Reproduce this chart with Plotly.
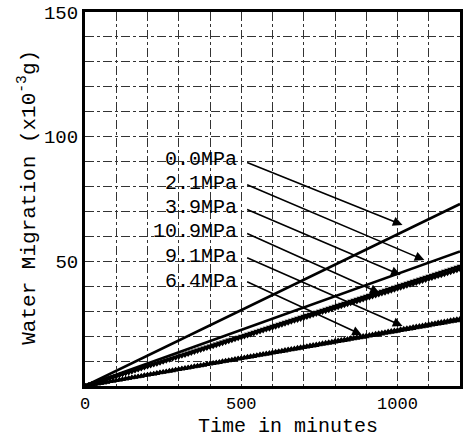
import plotly.graph_objects as go

# ---------------- data ----------------
time_min = list(range(0, 1210, 10))          # sampling times (min)
line_time = [0, 1200]
p00_vals = [0.0, 73.0]                        # 0.0 MPa
p21_vals = [0.0, 54.0]                        # 2.1 MPa

p39_vals = [
    0.0, 0.4, 0.8, 1.2, 1.6, 2.0, 2.4, 2.8, 3.2, 3.6,
    4.0, 4.4, 4.8, 5.2, 5.6, 6.0, 6.4, 6.8, 7.2, 7.6,
    8.0, 8.4, 8.8, 9.2, 9.6, 10.0, 10.4, 10.8, 11.2, 11.6,
    12.0, 12.4, 12.8, 13.2, 13.6, 14.0, 14.4, 14.8, 15.2, 15.6,
    16.0, 16.4, 16.8, 17.2, 17.6, 18.0, 18.4, 18.8, 19.2, 19.6,
    20.0, 20.4, 20.8, 21.2, 21.6, 22.0, 22.4, 22.8, 23.2, 23.6,
    24.0, 24.4, 24.8, 25.2, 25.6, 26.0, 26.4, 26.8, 27.2, 27.6,
    28.0, 28.4, 28.8, 29.2, 29.6, 30.0, 30.4, 30.8, 31.2, 31.6,
    32.0, 32.4, 32.8, 33.2, 33.6, 34.0, 34.4, 34.8, 35.2, 35.6,
    36.0, 36.4, 36.8, 37.2, 37.6, 38.0, 38.4, 38.8, 39.2, 39.6,
    40.0, 40.4, 40.8, 41.2, 41.6, 42.0, 42.4, 42.8, 43.2, 43.6,
    44.0, 44.4, 44.8, 45.2, 45.6, 46.0, 46.4, 46.8, 47.2, 47.6,
    48.0]

p109_vals = [
    0.00, 0.39, 0.78, 1.17, 1.56, 1.95, 2.34, 2.73, 3.12, 3.51,
    3.90, 4.29, 4.68, 5.07, 5.46, 5.85, 6.24, 6.63, 7.02, 7.41,
    7.80, 8.19, 8.58, 8.97, 9.36, 9.75, 10.14, 10.53, 10.92, 11.31,
    11.70, 12.09, 12.48, 12.87, 13.26, 13.65, 14.04, 14.43, 14.82, 15.21,
    15.60, 15.99, 16.38, 16.77, 17.16, 17.55, 17.94, 18.33, 18.72, 19.11,
    19.50, 19.89, 20.28, 20.67, 21.06, 21.45, 21.84, 22.23, 22.62, 23.01,
    23.40, 23.79, 24.18, 24.57, 24.96, 25.35, 25.74, 26.13, 26.52, 26.91,
    27.30, 27.69, 28.08, 28.47, 28.86, 29.25, 29.64, 30.03, 30.42, 30.81,
    31.20, 31.59, 31.98, 32.37, 32.76, 33.15, 33.54, 33.93, 34.32, 34.71,
    35.10, 35.49, 35.88, 36.27, 36.66, 37.05, 37.44, 37.83, 38.22, 38.61,
    39.00, 39.39, 39.78, 40.17, 40.56, 40.95, 41.34, 41.73, 42.12, 42.51,
    42.90, 43.29, 43.68, 44.07, 44.46, 44.85, 45.24, 45.63, 46.02, 46.41,
    46.80]

p91_vals = [
    0.0, 0.225, 0.45, 0.675, 0.9, 1.125, 1.35, 1.575, 1.8, 2.025,
    2.25, 2.475, 2.7, 2.925, 3.15, 3.375, 3.6, 3.825, 4.05, 4.275,
    4.5, 4.725, 4.95, 5.175, 5.4, 5.625, 5.85, 6.075, 6.3, 6.525,
    6.75, 6.975, 7.2, 7.425, 7.65, 7.875, 8.1, 8.325, 8.55, 8.775,
    9.0, 9.225, 9.45, 9.675, 9.9, 10.125, 10.35, 10.575, 10.8, 11.025,
    11.25, 11.475, 11.7, 11.925, 12.15, 12.375, 12.6, 12.825, 13.05, 13.275,
    13.5, 13.725, 13.95, 14.175, 14.4, 14.625, 14.85, 15.075, 15.3, 15.525,
    15.75, 15.975, 16.2, 16.425, 16.65, 16.875, 17.1, 17.325, 17.55, 17.775,
    18.0, 18.225, 18.45, 18.675, 18.9, 19.125, 19.35, 19.575, 19.8, 20.025,
    20.25, 20.475, 20.7, 20.925, 21.15, 21.375, 21.6, 21.825, 22.05, 22.275,
    22.5, 22.725, 22.95, 23.175, 23.4, 23.625, 23.85, 24.075, 24.3, 24.525,
    24.75, 24.975, 25.2, 25.425, 25.65, 25.875, 26.1, 26.325, 26.55, 26.775,
    27.0]

p64_vals = [
    0.0, 0.22, 0.44, 0.66, 0.88, 1.1, 1.32, 1.54, 1.76, 1.98,
    2.2, 2.42, 2.64, 2.86, 3.08, 3.3, 3.52, 3.74, 3.96, 4.18,
    4.4, 4.62, 4.84, 5.06, 5.28, 5.5, 5.72, 5.94, 6.16, 6.38,
    6.6, 6.82, 7.04, 7.26, 7.48, 7.7, 7.92, 8.14, 8.36, 8.58,
    8.8, 9.02, 9.24, 9.46, 9.68, 9.9, 10.12, 10.34, 10.56, 10.78,
    11.0, 11.22, 11.44, 11.66, 11.88, 12.1, 12.32, 12.54, 12.76, 12.98,
    13.2, 13.42, 13.64, 13.86, 14.08, 14.3, 14.52, 14.74, 14.96, 15.18,
    15.4, 15.62, 15.84, 16.06, 16.28, 16.5, 16.72, 16.94, 17.16, 17.38,
    17.6, 17.82, 18.04, 18.26, 18.48, 18.7, 18.92, 19.14, 19.36, 19.58,
    19.8, 20.02, 20.24, 20.46, 20.68, 20.9, 21.12, 21.34, 21.56, 21.78,
    22.0, 22.22, 22.44, 22.66, 22.88, 23.1, 23.32, 23.54, 23.76, 23.98,
    24.2, 24.42, 24.64, 24.86, 25.08, 25.3, 25.52, 25.74, 25.96, 26.18,
    26.4]

labels = ["0.0MPa", "2.1MPa", "3.9MPa", "10.9MPa", "9.1MPa", "6.4MPa"]
label_y = [90.7, 81.4, 71.4, 61.8, 52.1, 42.1]
tail_y = [89.9, 81.0, 71.0, 61.4, 51.7, 42.1]
head_x = [1016, 1086, 1010, 943, 1016, 886]
head_y = [64.6, 50.5, 44.5, 37.3, 24.1, 20.5]

x_ticks = [0, 500, 1000]
y_ticks = [50, 100, 150]

FONT = "Liberation Mono"

fig = go.Figure()
fig.add_trace(go.Scatter(x=line_time, y=p00_vals, mode="lines",
                         line=dict(color="black", width=2.6), name=labels[0]))
fig.add_trace(go.Scatter(x=line_time, y=p21_vals, mode="lines",
                         line=dict(color="black", width=2.6), name=labels[1]))
for vals, sym, nm in [(p39_vals, "triangle-down", labels[2]),
                      (p109_vals, "triangle-down", labels[3]),
                      (p91_vals, "triangle-up", labels[4]),
                      (p64_vals, "triangle-up", labels[5])]:
    fig.add_trace(go.Scatter(x=time_min, y=vals, mode="lines+markers",
                             line=dict(color="black", width=1.2),
                             marker=dict(symbol=sym, size=6, color="black",
                                         line=dict(width=0)),
                             name=nm))

ann = []
for lab, ly, ty, hx, hy in zip(labels, label_y, tail_y, head_x, head_y):
    ann.append(dict(x=492, y=ly, xref="x", yref="y", text=lab, showarrow=False,
                    xanchor="right", yanchor="middle",
                    font=dict(family=FONT, size=20, color="black")))
    ann.append(dict(x=hx, y=hy, ax=514, ay=ty, xref="x", yref="y",
                    axref="x", ayref="y", text="", showarrow=True,
                    arrowhead=2, arrowsize=1.2, arrowwidth=1.6,
                    arrowcolor="black", standoff=0, startstandoff=0))
ann.append(dict(x=0.54, y=-0.108, xref="paper", yref="paper",
                text="Time in minutes", showarrow=False,
                xanchor="center", yanchor="middle",
                font=dict(family=FONT, size=20, color="black")))
ann.append(dict(x=-0.153, y=0.505, xref="paper", yref="paper",
                text="Water Migration (x10<sup>-3</sup>g)", showarrow=False,
                textangle=-90, xanchor="center", yanchor="middle",
                font=dict(family=FONT, size=21, color="black")))

grid = dict(showgrid=True, gridcolor="#333", gridwidth=1, griddash="dashdot")

fig.update_layout(
    width=466, height=437,
    margin=dict(l=85, r=3, t=12, b=51),
    paper_bgcolor="white", plot_bgcolor="white",
    showlegend=False,
    annotations=ann,
    font=dict(family=FONT, size=18, color="black"),
    xaxis=dict(range=[0, 1200], tickvals=x_ticks, ticks="",
               showline=True, linewidth=3, linecolor="black", mirror=True,
               zeroline=False, tickfont=dict(family=FONT, size=17),
               ticklabelstandoff=0,
               minor=dict(dtick=100, tick0=0, **grid), **grid),
    yaxis=dict(range=[0, 150], tickvals=y_ticks, ticks="",
               showline=True, linewidth=3, linecolor="black", mirror=True,
               zeroline=False, tickfont=dict(family=FONT, size=19),
               minor=dict(dtick=10, tick0=0, **grid), **grid),
)

fig.write_html("out.html")
